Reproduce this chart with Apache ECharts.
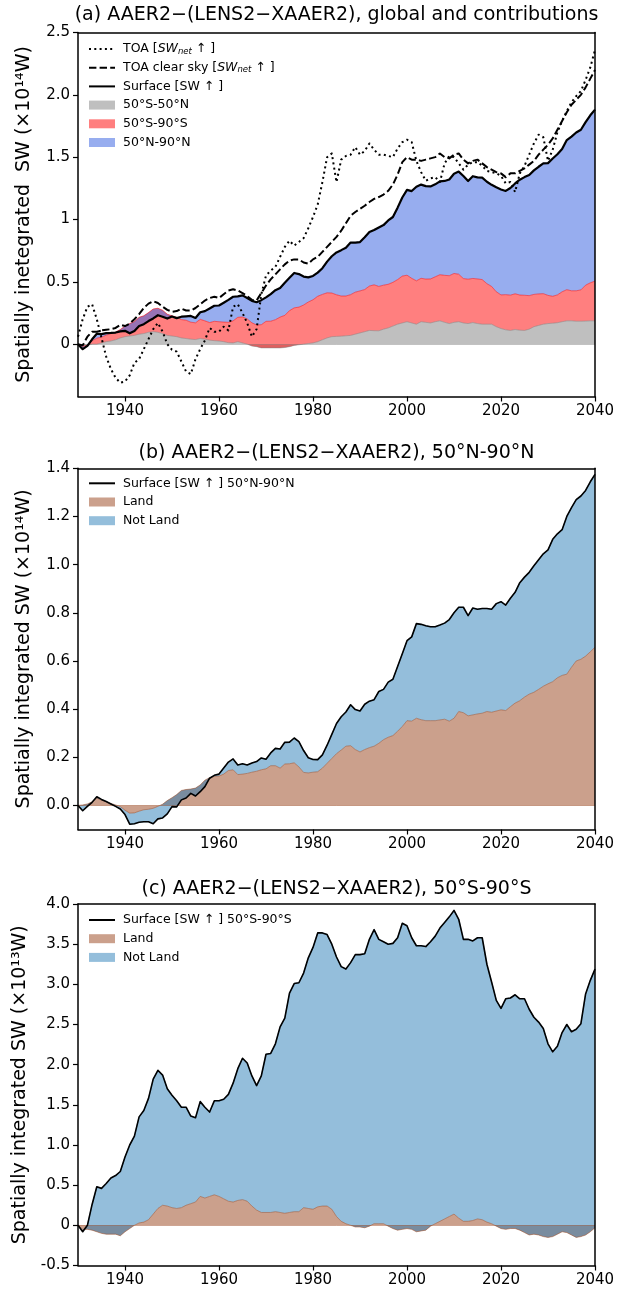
<!DOCTYPE html>
<html>
<head>
<meta charset="utf-8">
<script src="https://cdn.jsdelivr.net/npm/echarts@6/dist/echarts.min.js"></script>
<style>html,body{margin:0;padding:0;background:#fff}#c{width:618px;height:1292px}</style>
</head>
<body>
<div id="c"></div>
<script>
// ---------------- data ----------------
const years = Array.from({length: 111}, (_, i) => String(1930 + i));
const xTickYears = ['1940', '1960', '1980', '2000', '2020', '2040'];

// Panel (b): 50N-90N surface SW (x1e14 W) and land part
const northSurf = [
  0.000, -0.022, -0.004, 0.013, 0.036, 0.025, 0.016, 0.006, -0.004, -0.015,
  -0.038, -0.078, -0.076, -0.070, -0.068, -0.068, -0.076, -0.056, -0.052, -0.035,
  -0.005, -0.006, 0.023, 0.031, 0.050, 0.039, 0.057, 0.078, 0.113, 0.125,
  0.130, 0.155, 0.180, 0.193, 0.168, 0.173, 0.168, 0.176, 0.182, 0.197,
  0.192, 0.218, 0.237, 0.234, 0.262, 0.263, 0.280, 0.265, 0.228, 0.198,
  0.191, 0.190, 0.210, 0.250, 0.295, 0.340, 0.368, 0.388, 0.418, 0.398,
  0.392, 0.420, 0.433, 0.439, 0.473, 0.482, 0.512, 0.524, 0.577, 0.630,
  0.684, 0.700, 0.755, 0.752, 0.746, 0.742, 0.742, 0.749, 0.757, 0.772,
  0.800, 0.823, 0.823, 0.788, 0.820, 0.815, 0.818, 0.818, 0.815, 0.838,
  0.846, 0.832, 0.860, 0.885, 0.925, 0.948, 0.968, 0.995, 1.020, 1.045,
  1.061, 1.105, 1.128, 1.145, 1.200, 1.237, 1.270, 1.285, 1.308, 1.344,
  1.375
];
const northLand = [
  0.000, 0.002, 0.006, 0.015, 0.030, 0.022, 0.015, 0.008, 0.002, -0.005,
  -0.020, -0.032, -0.031, -0.024, -0.018, -0.016, -0.012, -0.004, 0.005, 0.020,
  0.032, 0.045, 0.062, 0.066, 0.068, 0.072, 0.085, 0.105, 0.115, 0.120,
  0.122, 0.130, 0.145, 0.148, 0.128, 0.130, 0.133, 0.138, 0.142, 0.148,
  0.152, 0.165, 0.165, 0.155, 0.172, 0.173, 0.177, 0.160, 0.137, 0.135,
  0.138, 0.140, 0.155, 0.175, 0.195, 0.215, 0.230, 0.246, 0.248, 0.232,
  0.222, 0.232, 0.240, 0.246, 0.258, 0.273, 0.283, 0.290, 0.308, 0.328,
  0.352, 0.350, 0.362, 0.356, 0.352, 0.352, 0.352, 0.355, 0.358, 0.350,
  0.362, 0.390, 0.385, 0.372, 0.376, 0.380, 0.383, 0.390, 0.387, 0.392,
  0.397, 0.394, 0.410, 0.425, 0.435, 0.450, 0.462, 0.470, 0.482, 0.495,
  0.505, 0.514, 0.530, 0.540, 0.545, 0.574, 0.600, 0.607, 0.620, 0.638,
  0.657
];

// Panel (c): 50S-90S surface SW (x1e13 W) and land part
const southSurf = [
  0.00, -0.08, 0.00, 0.26, 0.48, 0.46, 0.52, 0.59, 0.62, 0.67,
  0.85, 1.00, 1.11, 1.35, 1.43, 1.58, 1.82, 1.93, 1.87, 1.70,
  1.62, 1.55, 1.47, 1.47, 1.36, 1.34, 1.54, 1.47, 1.41, 1.55,
  1.55, 1.57, 1.63, 1.77, 1.95, 2.08, 2.02, 1.86, 1.74, 1.86,
  2.13, 2.14, 2.26, 2.47, 2.58, 2.89, 3.01, 3.02, 3.14, 3.33,
  3.46, 3.64, 3.64, 3.62, 3.50, 3.34, 3.22, 3.19, 3.27, 3.37,
  3.37, 3.38, 3.56, 3.68, 3.56, 3.53, 3.50, 3.51, 3.58, 3.76,
  3.73, 3.58, 3.48, 3.48, 3.47, 3.53, 3.60, 3.70, 3.77, 3.84,
  3.92, 3.81, 3.56, 3.56, 3.54, 3.58, 3.58, 3.25, 3.03, 2.80,
  2.70, 2.82, 2.83, 2.87, 2.82, 2.82, 2.69, 2.59, 2.53, 2.45,
  2.26, 2.16, 2.23, 2.40, 2.50, 2.41, 2.44, 2.51, 2.88, 3.05,
  3.19
];
const southLand = [
  0.00, -0.05, -0.05, -0.06, -0.08, -0.10, -0.11, -0.11, -0.11, -0.13,
  -0.08, -0.04, 0.00, 0.03, 0.04, 0.07, 0.14, 0.21, 0.25, 0.24,
  0.22, 0.21, 0.22, 0.25, 0.27, 0.29, 0.36, 0.34, 0.36, 0.38,
  0.36, 0.33, 0.30, 0.29, 0.31, 0.32, 0.30, 0.24, 0.19, 0.16,
  0.16, 0.16, 0.17, 0.16, 0.15, 0.16, 0.17, 0.17, 0.22, 0.21,
  0.20, 0.23, 0.24, 0.24, 0.20, 0.11, 0.05, 0.02, 0.00, -0.02,
  -0.02, -0.03, -0.01, 0.02, 0.02, 0.02, -0.01, -0.04, -0.06, -0.05,
  -0.04, -0.05, -0.08, -0.07, -0.06, -0.01, 0.02, 0.05, 0.08, 0.11,
  0.14, 0.09, 0.05, 0.05, 0.06, 0.08, 0.07, 0.04, 0.02, -0.01,
  -0.04, -0.05, -0.04, -0.04, -0.06, -0.09, -0.12, -0.11, -0.12, -0.14,
  -0.15, -0.14, -0.11, -0.08, -0.09, -0.12, -0.15, -0.14, -0.12, -0.08,
  -0.03
];

// Panel (a): 50S-50N contribution (x1e14 W)
const tropics = [
  0.00, -0.01, -0.01, 0.00, 0.00, 0.01, 0.02, 0.025, 0.035, 0.05,
  0.06, 0.065, 0.07, 0.08, 0.085, 0.095, 0.10, 0.095, 0.085, 0.07,
  0.065, 0.06, 0.05, 0.045, 0.04, 0.037, 0.045, 0.04, 0.032, 0.028,
  0.025, 0.02, 0.012, 0.01, 0.02, 0.01, 0.00, -0.015, -0.02, -0.03,
  -0.03, -0.03, -0.03, -0.03, -0.027, -0.02, -0.01, -0.005, 0.00, 0.005,
  0.01, 0.02, 0.035, 0.05, 0.06, 0.062, 0.064, 0.067, 0.07, 0.08,
  0.09, 0.10, 0.11, 0.108, 0.107, 0.12, 0.13, 0.145, 0.16, 0.17,
  0.18, 0.17, 0.16, 0.18, 0.175, 0.17, 0.18, 0.187, 0.175, 0.165,
  0.175, 0.18, 0.17, 0.165, 0.173, 0.165, 0.16, 0.16, 0.16, 0.14,
  0.125, 0.115, 0.11, 0.117, 0.112, 0.11, 0.12, 0.14, 0.15, 0.16,
  0.165, 0.168, 0.172, 0.18, 0.187, 0.187, 0.184, 0.184, 0.185, 0.187,
  0.187
];
// Panel (a): TOA SWnet (dotted) and TOA clear sky (dashed), x1e14 W
const toa = [
  0.06, 0.20, 0.30, 0.32, 0.20, 0.05, -0.10, -0.20, -0.27, -0.31,
  -0.30, -0.25, -0.15, -0.12, -0.04, 0.04, 0.12, 0.17, 0.10, 0.00,
  -0.045, -0.06, -0.14, -0.22, -0.24, -0.12, -0.04, 0.03, 0.13, 0.10,
  0.10, 0.14, 0.11, 0.30, 0.32, 0.25, 0.17, 0.06, 0.12, 0.40,
  0.55, 0.59, 0.62, 0.70, 0.78, 0.83, 0.79, 0.82, 0.85, 0.93,
  1.02, 1.12, 1.30, 1.50, 1.53, 1.30, 1.48, 1.51, 1.52, 1.58,
  1.52, 1.55, 1.61, 1.56, 1.52, 1.52, 1.51, 1.50, 1.57, 1.62,
  1.64, 1.62, 1.47, 1.38, 1.31, 1.33, 1.34, 1.30, 1.45, 1.51,
  1.50, 1.45, 1.40, 1.44, 1.46, 1.46, 1.43, 1.39, 1.38, 1.37,
  1.35, 1.29, 1.30, 1.22, 1.37, 1.43, 1.52, 1.61, 1.68, 1.66,
  1.47, 1.56, 1.70, 1.79, 1.87, 1.94, 1.99, 2.03, 2.12, 2.22,
  2.36
];
const toaClear = [
  0.00, -0.01, 0.06, 0.10, 0.10, 0.11, 0.115, 0.12, 0.13, 0.155,
  0.145, 0.165, 0.20, 0.24, 0.29, 0.325, 0.345, 0.33, 0.30, 0.275,
  0.26, 0.265, 0.285, 0.27, 0.27, 0.29, 0.32, 0.35, 0.37, 0.38,
  0.37, 0.40, 0.43, 0.44, 0.43, 0.41, 0.385, 0.355, 0.35, 0.41,
  0.47, 0.52, 0.56, 0.60, 0.64, 0.67, 0.68, 0.68, 0.655, 0.645,
  0.68, 0.70, 0.74, 0.78, 0.82, 0.86, 0.91, 0.97, 1.03, 1.06,
  1.085, 1.11, 1.14, 1.165, 1.18, 1.20, 1.23, 1.28, 1.36, 1.46,
  1.50, 1.48, 1.48, 1.47, 1.48, 1.49, 1.50, 1.53, 1.50, 1.49,
  1.52, 1.53, 1.48, 1.45, 1.47, 1.48, 1.45, 1.42, 1.40, 1.38,
  1.37, 1.34, 1.37, 1.37, 1.39, 1.41, 1.44, 1.47, 1.52, 1.56,
  1.60, 1.65, 1.72, 1.79, 1.86, 1.92, 1.96, 2.00, 2.06, 2.13,
  2.20
];

const yTicksA = [0, 0.5, 1, 1.5, 2, 2.5];
const yTickLabelsA = ['0', '0.5', '1', '1.5', '2.0', '2.5'];
const yTicksB = [0, 0.2, 0.4, 0.6, 0.8, 1.0, 1.2, 1.4];
const yTickLabelsB = ['0.0', '0.2', '0.4', '0.6', '0.8', '1.0', '1.2', '1.4'];
const yTicksC = [-0.5, 0, 0.5, 1, 1.5, 2, 2.5, 3, 3.5, 4];
const yTickLabelsC = ['-0.5', '0', '0.5', '1.0', '1.5', '2.0', '2.5', '3.0', '3.5', '4.0'];

// ---------------- derived for stacking ----------------
const south14 = southSurf.map(v => v / 10);             // 50S-90S in units of 1e14 W
const surfaceGlobal = tropics.map((v, i) => v + south14[i] + northSurf[i]);
const northNotLand = northSurf.map((v, i) => v - northLand[i]);
const southNotLand = southSurf.map((v, i) => v - southLand[i]);

// ---------------- chart ----------------
const FONT = 'DejaVu Sans';
const BLACK = '#000';

function tickLabel(v, ticks, labels) {
  for (let i = 0; i < ticks.length; i++) if (Math.abs(ticks[i] - v) < 1e-6) return labels[i];
  return '';
}
function xBottom(g) {
  return {
    type: 'category', gridIndex: g, data: years, boundaryGap: false, z: 10,
    axisLine: {show: true, onZero: false, lineStyle: {color: BLACK, width: 1.5}},
    axisTick: {show: true, length: 5, interval: (i, v) => xTickYears.includes(v), lineStyle: {color: BLACK, width: 1.2}},
    axisLabel: {show: true, interval: (i, v) => xTickYears.includes(v), color: BLACK, fontSize: 15, fontFamily: FONT, margin: 7},
    splitLine: {show: false}
  };
}
function xTop(g) {
  return {
    type: 'category', gridIndex: g, data: years, boundaryGap: false, position: 'top', z: 10,
    axisLine: {show: true, onZero: false, lineStyle: {color: BLACK, width: 1.5}},
    axisTick: {show: false}, axisLabel: {show: false}, splitLine: {show: false}
  };
}
function yLeft(g, min, max, ticks, labels, name) {
  return {
    type: 'value', gridIndex: g, min: min, max: max, z: 10,
    name: name, nameLocation: 'middle', nameGap: 44,
    nameTextStyle: {fontSize: 19, fontFamily: FONT, color: BLACK},
    axisLine: {show: true, onZero: false, lineStyle: {color: BLACK, width: 1.5}},
    axisTick: {show: true, length: 5, customValues: ticks, lineStyle: {color: BLACK, width: 1.2}},
    axisLabel: {show: true, customValues: ticks, formatter: v => tickLabel(v, ticks, labels),
      color: BLACK, fontSize: 15, fontFamily: FONT, margin: 8},
    splitLine: {show: false}
  };
}
function yRight(g, min, max) {
  return {
    type: 'value', gridIndex: g, min: min, max: max, position: 'right', z: 10,
    axisLine: {show: true, onZero: false, lineStyle: {color: BLACK, width: 1.5}},
    axisTick: {show: false}, axisLabel: {show: false}, splitLine: {show: false}
  };
}
function areaSeries(name, data, color, op, stack, ax, baseline) {
  const s = {
    name: name, type: 'line', data: data, xAxisIndex: ax, yAxisIndex: ax,
    stack: stack, stackStrategy: 'all', symbol: 'none', showSymbol: false, z: 2,
    lineStyle: {width: 1, color: color, opacity: op},
    areaStyle: {color: color, opacity: op},
    itemStyle: {color: color}, silent: true, emphasis: {disabled: true}
  };
  if (baseline) {
    s.markLine = {silent: true, symbol: 'none', label: {show: false}, animation: false,
      lineStyle: {color: color, opacity: op * 0.8, type: 'solid', width: 1}, data: [{yAxis: 0}]};
  }
  return s;
}
function lineSeries(name, data, type, width, ax) {
  return {
    name: name, type: 'line', data: data, xAxisIndex: ax, yAxisIndex: ax,
    symbol: 'none', showSymbol: false, z: 5,
    lineStyle: {color: BLACK, width: width, type: type, cap: 'butt', join: 'round'},
    itemStyle: {color: BLACK}, silent: true, emphasis: {disabled: true}
  };
}

const GRAY = '#808080', RED = '#ff0000', RBLUE = '#4169e1', SIENNA = '#a0522d', TBLUE = '#1f77b4';
const DOT = [2, 3.3], DASH = [7.4, 3.2];

const richNames = {
  'TOA [SWnet ↑ ]': 'TOA [{it|SW}{sub|net} ↑ ]',
  'TOA clear sky [SWnet ↑ ]': 'TOA clear sky [{it|SW}{sub|net} ↑ ]'
};
function legendBase(top, data) {
  return {
    orient: 'vertical', left: 88, top: top, padding: 0, itemWidth: 26, itemHeight: 9, itemGap: 3.7,
    selectedMode: false,
    textStyle: {fontSize: 12.5, fontFamily: FONT, color: BLACK, lineHeight: 15, padding: [0, 0, 0, 3],
      rich: {
        it: {fontSize: 12.5, fontFamily: FONT, fontStyle: 'italic', color: BLACK},
        sub: {fontSize: 8.5, fontFamily: FONT, fontStyle: 'italic', color: BLACK, padding: [5, 0, 0, 0]}
      }},
    formatter: n => richNames[n] || n,
    data: data
  };
}
const lineItem = n => ({name: n, itemStyle: {opacity: 0}});
const rectItem = (n, c, op) => ({name: n, icon: 'rect', itemStyle: {color: c, opacity: op, borderWidth: 0}});

const option = {
  animation: false,
  backgroundColor: '#fff',
  textStyle: {fontFamily: FONT},
  grid: [
    {left: 78, top: 32.5, width: 517, height: 364, containLabel: false},
    {left: 78, top: 468.3, width: 517, height: 361.2, containLabel: false},
    {left: 78, top: 904, width: 517, height: 361.5, containLabel: false}
  ],
  xAxis: [xBottom(0), xTop(0), xBottom(1), xTop(1), xBottom(2), xTop(2)],
  yAxis: [
    yLeft(0, -0.42, 2.5, yTicksA, yTickLabelsA, 'Spatially inetegrated  SW (×10¹⁴W)'), yRight(0, -0.42, 2.5),
    yLeft(1, -0.1, 1.4, yTicksB, yTickLabelsB, 'Spatially integrated SW (×10¹⁴W)'), yRight(1, -0.1, 1.4),
    yLeft(2, -0.5, 4.0, yTicksC, yTickLabelsC, 'Spatially integrated SW (×10¹³W)'), yRight(2, -0.5, 4.0)
  ],
  legend: [
    legendBase(41.5, [lineItem('TOA [SWnet ↑ ]'), lineItem('TOA clear sky [SWnet ↑ ]'), lineItem('Surface [SW ↑ ]'),
      rectItem('50°S-50°N', GRAY, 0.5), rectItem('50°S-90°S', RED, 0.5), rectItem('50°N-90°N', RBLUE, 0.55)]),
    legendBase(475.8, [lineItem('Surface [SW ↑ ] 50°N-90°N'), rectItem('Land', SIENNA, 0.55), rectItem('Not Land', TBLUE, 0.48)]),
    legendBase(912.5, [lineItem('Surface [SW ↑ ] 50°S-90°S'), rectItem('Land', SIENNA, 0.55), rectItem('Not Land', TBLUE, 0.48)])
  ],
  graphic: [
    {type: 'text', silent: true, style: {text: '(a) AAER2−(LENS2−XAAER2), global and contributions', x: 336.5, y: 15,
      align: 'center', verticalAlign: 'middle', fontSize: 19, fontFamily: FONT, fill: BLACK}},
    {type: 'text', silent: true, style: {text: '(b) AAER2−(LENS2−XAAER2), 50°N-90°N', x: 336.5, y: 453,
      align: 'center', verticalAlign: 'middle', fontSize: 19, fontFamily: FONT, fill: BLACK}},
    {type: 'text', silent: true, style: {text: '(c) AAER2−(LENS2−XAAER2), 50°S-90°S', x: 336.5, y: 889,
      align: 'center', verticalAlign: 'middle', fontSize: 19, fontFamily: FONT, fill: BLACK}}
  ],
  series: [
    // panel (a)
    areaSeries('50°S-50°N', tropics, GRAY, 0.5, 'A', 0, true),
    areaSeries('50°S-90°S', south14, RED, 0.5, 'A', 0, false),
    areaSeries('50°N-90°N', northSurf, RBLUE, 0.55, 'A', 0, false),
    lineSeries('TOA [SWnet ↑ ]', toa, DOT, 2, 0),
    lineSeries('TOA clear sky [SWnet ↑ ]', toaClear, DASH, 2, 0),
    lineSeries('Surface [SW ↑ ]', surfaceGlobal, 'solid', 2.2, 0),
    // panel (b)
    areaSeries('Land', northLand, SIENNA, 0.55, 'B', 2, true),
    areaSeries('Not Land', northNotLand, TBLUE, 0.48, 'B', 2, false),
    lineSeries('Surface [SW ↑ ] 50°N-90°N', northSurf, 'solid', 1.6, 2),
    // panel (c)
    areaSeries('Land', southLand, SIENNA, 0.55, 'C', 4, true),
    areaSeries('Not Land', southNotLand, TBLUE, 0.48, 'C', 4, false),
    lineSeries('Surface [SW ↑ ] 50°S-90°S', southSurf, 'solid', 1.6, 4)
  ]
};

const chart = echarts.init(document.getElementById('c'), null, {renderer: 'canvas', width: 618, height: 1292});
chart.setOption(option);
</script>
</body>
</html>
